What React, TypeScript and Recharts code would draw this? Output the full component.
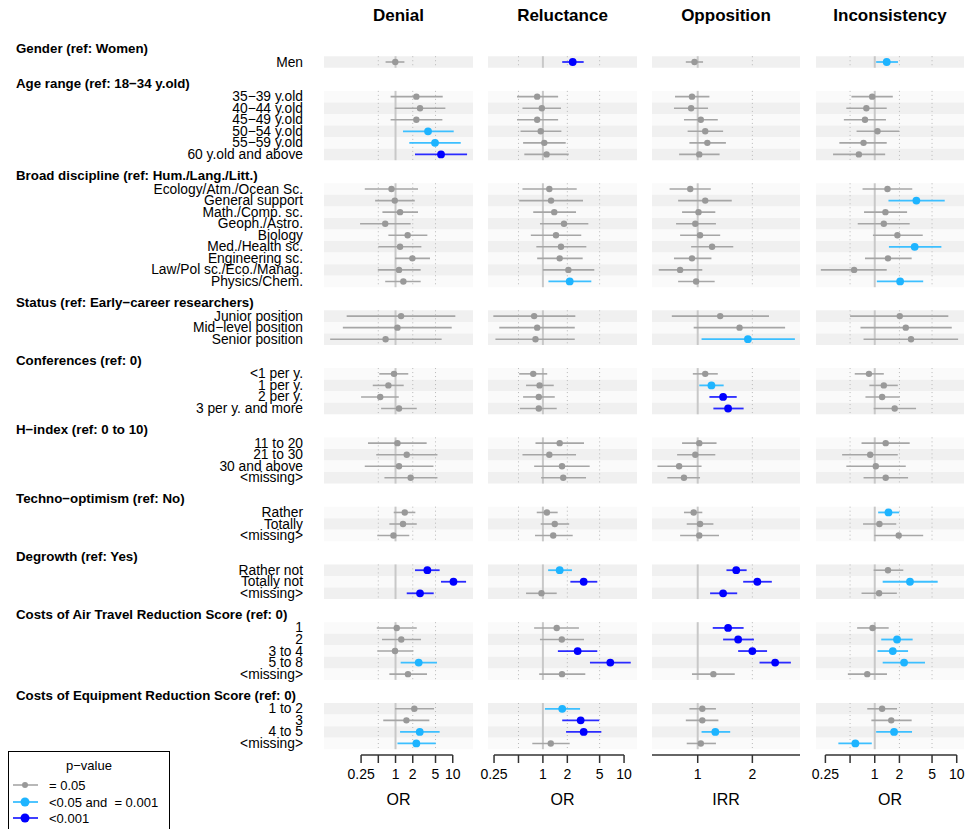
import React from 'react';
import { ScatterChart, Scatter, XAxis, YAxis, ErrorBar, ReferenceArea, ReferenceLine } from 'recharts';

const FONT = '"Liberation Sans", Arial, Helvetica, sans-serif';
const M = '\u2212';

// ---------- categories ----------
const groupTitles = [
  'Gender (ref: Women)',
  `Age range (ref: 18${M}34 y.old)`,
  'Broad discipline (ref: Hum./Lang./Litt.)',
  `Status (ref: Early${M}career researchers)`,
  'Conferences (ref: 0)',
  `H${M}index (ref: 0 to 10)`,
  `Techno${M}optimism (ref: No)`,
  'Degrowth (ref: Yes)',
  'Costs of Air Travel Reduction Score (ref: 0)',
  'Costs of Equipment Reduction Score (ref: 0)',
];
const groupItems = [
  ['Men'],
  [`35${M}39 y.old`, `40${M}44 y.old`, `45${M}49 y.old`, `50${M}54 y.old`, `55${M}59 y.old`, '60 y.old and above'],
  ['Ecology/Atm./Ocean Sc.', 'General support', 'Math./Comp. sc.', 'Geoph./Astro.', 'Biology', 'Med./Health sc.', 'Engineering sc.', 'Law/Pol sc./Eco./Manag.', 'Physics/Chem.'],
  ['Junior position', `Mid${M}level position`, 'Senior position'],
  ['<1 per y.', '1 per y.', '2 per y.', '3 per y. and more'],
  ['11 to 20', '21 to 30', '30 and above', '<missing>'],
  ['Rather', 'Totally', '<missing>'],
  ['Rather not', 'Totally not', '<missing>'],
  ['1', '2', '3 to 4', '5 to 8', '<missing>'],
  ['1 to 2', '3', '4 to 5', '<missing>'],
];

// ---------- series values: [estimate, low, high, significance (0: >=0.05, 1: <0.05, 2: <0.001)] ----------
const denial = [
  [0.99, 0.67, 1.43, 0],
  [2.31, 0.82, 6.68, 0], [2.68, 0.97, 7.43, 0], [2.31, 0.82, 6.59, 0], [3.7, 1.35, 10.4, 1], [4.9, 1.74, 13.8, 1], [6.24, 2.19, 17.8, 2],
  [0.85, 0.29, 2.47, 0], [0.97, 0.44, 2.17, 0], [1.2, 0.59, 2.47, 0], [0.66, 0.24, 1.84, 0], [1.63, 0.75, 3.6, 0], [1.2, 0.5, 2.83, 0], [1.97, 0.98, 4.0, 0], [1.15, 0.49, 2.75, 0], [1.37, 0.66, 2.75, 0],
  [1.25, 0.14, 11.1, 0], [1.08, 0.12, 9.6, 0], [0.67, 0.072, 6.4, 0],
  [0.94, 0.52, 1.67, 0], [0.75, 0.4, 1.39, 0], [0.54, 0.25, 1.14, 0], [1.15, 0.56, 2.35, 0],
  [1.08, 0.33, 3.5, 0], [1.57, 0.46, 5.4, 0], [1.15, 0.29, 4.6, 0], [1.84, 0.64, 5.4, 0],
  [1.45, 0.93, 2.22, 0], [1.35, 0.78, 2.35, 0], [0.92, 0.48, 1.74, 0],
  [3.6, 2.19, 5.9, 2], [10.3, 6.24, 17.1, 2], [2.68, 1.57, 4.65, 2],
  [1.05, 0.47, 2.35, 0], [1.26, 0.58, 2.79, 0], [0.98, 0.48, 2.05, 0], [2.54, 1.23, 5.3, 1], [1.65, 0.78, 3.55, 0],
  [2.13, 0.98, 4.71, 0], [1.55, 0.61, 3.9, 0], [2.65, 1.2, 5.9, 1], [2.31, 1.08, 5.05, 1],
];
const reluctance = [
  [2.33, 1.73, 3.18, 2],
  [0.85, 0.48, 1.54, 0], [0.97, 0.56, 1.67, 0], [0.85, 0.48, 1.54, 0], [0.94, 0.53, 1.69, 0], [1.04, 0.57, 1.91, 0], [1.11, 0.59, 2.08, 0],
  [1.2, 0.56, 2.61, 0], [1.26, 0.51, 3.12, 0], [1.38, 0.76, 2.56, 0], [1.82, 0.92, 3.63, 0], [1.45, 0.71, 2.97, 0], [1.67, 0.83, 3.43, 0], [1.61, 0.85, 3.09, 0], [2.06, 1.0, 4.3, 0], [2.14, 1.17, 3.95, 1],
  [0.78, 0.245, 2.51, 0], [0.85, 0.29, 2.47, 0], [0.81, 0.26, 2.47, 0],
  [0.76, 0.51, 1.13, 0], [0.91, 0.62, 1.36, 0], [0.89, 0.57, 1.4, 0], [0.89, 0.52, 1.48, 0],
  [1.61, 0.81, 3.21, 0], [1.2, 0.56, 2.56, 0], [1.72, 0.78, 3.77, 0], [1.78, 0.95, 3.4, 0],
  [1.12, 0.84, 1.52, 0], [1.4, 0.94, 2.11, 0], [1.34, 0.8, 2.33, 0],
  [1.61, 1.16, 2.28, 1], [3.18, 2.18, 4.68, 2], [0.96, 0.62, 1.48, 0],
  [1.48, 0.78, 2.78, 0], [1.71, 0.92, 3.21, 0], [2.68, 1.53, 4.68, 2], [6.77, 3.8, 12.1, 2], [1.72, 0.9, 3.33, 0],
  [1.73, 1.06, 2.87, 1], [2.92, 1.73, 4.95, 2], [3.18, 1.93, 5.25, 2], [1.25, 0.74, 2.14, 0],
];
const opposition = [
  [0.96, 0.86, 1.07, 0],
  [0.93, 0.75, 1.16, 0], [0.92, 0.74, 1.14, 0], [1.04, 0.84, 1.29, 0], [1.1, 0.88, 1.38, 0], [1.13, 0.9, 1.43, 0], [1.02, 0.79, 1.32, 0],
  [0.91, 0.7, 1.18, 0], [1.1, 0.78, 1.54, 0], [1.01, 0.82, 1.25, 0], [0.97, 0.76, 1.26, 0], [1.03, 0.8, 1.33, 0], [1.2, 0.92, 1.57, 0], [0.93, 0.74, 1.19, 0], [0.8, 0.61, 1.06, 0], [0.98, 0.78, 1.24, 0],
  [1.33, 0.72, 2.47, 0], [1.7, 0.95, 3.03, 0], [1.89, 1.05, 3.43, 1],
  [1.1, 0.94, 1.29, 0], [1.19, 1.02, 1.39, 1], [1.38, 1.16, 1.64, 2], [1.47, 1.22, 1.79, 2],
  [1.02, 0.82, 1.27, 0], [0.97, 0.77, 1.25, 0], [0.79, 0.6, 1.05, 0], [0.84, 0.68, 1.03, 0],
  [0.95, 0.84, 1.06, 0], [1.03, 0.87, 1.22, 0], [1.02, 0.8, 1.31, 0],
  [1.63, 1.44, 1.86, 2], [2.13, 1.78, 2.56, 2], [1.38, 1.17, 1.65, 2],
  [1.47, 1.21, 1.79, 2], [1.67, 1.38, 2.04, 2], [2.0, 1.67, 2.41, 2], [2.67, 2.19, 3.26, 2], [1.22, 0.93, 1.6, 0],
  [1.06, 0.9, 1.26, 0], [1.06, 0.86, 1.3, 0], [1.25, 1.05, 1.51, 1], [1.04, 0.87, 1.26, 0],
];
const inconsistency = [
  [1.4, 1.04, 1.92, 1],
  [0.93, 0.52, 1.66, 0], [0.79, 0.45, 1.4, 0], [0.76, 0.42, 1.37, 0], [1.08, 0.6, 1.98, 0], [0.73, 0.37, 1.4, 0], [0.64, 0.31, 1.34, 0],
  [1.43, 0.71, 2.87, 0], [3.22, 1.47, 7.14, 1], [1.35, 0.74, 2.48, 0], [1.29, 0.62, 2.67, 0], [1.89, 0.95, 3.85, 0], [3.07, 1.49, 6.5, 1], [1.45, 0.76, 2.82, 0], [0.56, 0.22, 1.4, 0], [2.04, 1.06, 3.9, 1],
  [2.02, 0.5, 7.9, 0], [2.39, 0.67, 8.7, 0], [2.77, 0.73, 10.4, 0],
  [0.85, 0.57, 1.29, 0], [1.29, 0.86, 1.91, 0], [1.23, 0.77, 2.02, 0], [1.75, 0.97, 3.19, 0],
  [1.36, 0.69, 2.67, 0], [0.88, 0.4, 1.91, 0], [1.03, 0.45, 2.39, 0], [1.36, 0.73, 2.55, 0],
  [1.47, 1.1, 1.99, 1], [1.14, 0.72, 1.83, 0], [1.96, 0.99, 3.9, 0],
  [1.45, 0.97, 2.23, 0], [2.69, 1.25, 5.86, 1], [1.13, 0.69, 1.86, 0],
  [0.94, 0.61, 1.48, 0], [1.87, 1.2, 2.9, 1], [1.66, 1.08, 2.55, 1], [2.28, 1.25, 4.1, 1], [0.81, 0.47, 1.41, 0],
  [1.23, 0.81, 1.87, 0], [1.59, 0.91, 2.82, 0], [1.72, 1.04, 2.85, 1], [0.58, 0.36, 0.92, 1],
];

// ---------- tick labels ----------
const panelTitles = ['Denial', 'Reluctance', 'Opposition', 'Inconsistency'];
const axisTitles = ['OR', 'OR', 'IRR', 'OR'];
const orTicks = [0.25, 0.5, 1, 2, 5, 10];
const orTickLabels = ['0.25', '', '1', '2', '5', '10'];
const irrTicks = [1, 2];
const irrTickLabels = ['1', '2'];
const orGrid = [0.5, 2, 5];
const irrGrid = [2];
const legendTitle = `p${M}value`;
const legendLabels = ['= 0.05', '<0.05 and\u00a0 = 0.001', '<0.001'];

const panelData = [denial, reluctance, opposition, inconsistency];
const panelDomains = [[0.0562, 22.6], [0.2106, 14.44], [0.56, 3.66], [0.192, 12.27]];

// ---------- layout / style ----------
const PLOT_LEFT = [324, 488, 652, 816];
const PLOT_W = [149, 149, 148, 148];
const LABEL_W = 324;
const PAD = 18;
const SLOT_MIN = -1;
const SLOT_MAX = 61;
const CH = 829;
const TOP = 38.9;
const XH = 50;
const BOTTOM = 24;

const SIG_DOT = ['#999999', '#1eb4ff', '#0000ff'];
const SIG_LINE = ['#a6a6a6', '#3cbfff', '#2a2aff'];
const SIG_R = [3.2, 3.9, 3.9];
const SIG_W = [1.6, 1.8, 1.8];
const STRIPE = ['#f0f0f0', '#fafafa'];

// build slots
type Pt = { x: number; y: number; err: number[]; sig: number; k: number };
const labelRows: { slot: number; text: string; header: boolean }[] = [];
const groupSpans: { first: number; last: number }[] = [];
const itemSlots: number[] = [];
(() => {
  let slot = 0;
  groupItems.forEach((items, gi) => {
    labelRows.push({ slot, text: groupTitles[gi], header: true });
    items.forEach((t, ii) => {
      labelRows.push({ slot: slot + 1 + ii, text: t, header: false });
      itemSlots.push(slot + 1 + ii);
    });
    groupSpans.push({ first: slot + 1, last: slot + items.length });
    slot += items.length + 2;
  });
})();
const labelBySlot = new Map(labelRows.map((r) => [r.slot, r]));

function buildPoints(rows: number[][]): Pt[] {
  return rows.map((r, k) => ({ x: r[0], y: itemSlots[k], err: [r[0] - r[1], r[2] - r[0]], sig: r[3], k }));
}

const LabelTick = (props: any) => {
  const { y, payload } = props;
  const r = labelBySlot.get(payload.value);
  if (!r) return <g />;
  if (r.header) {
    return (
      <text x={16} y={y - 2} textAnchor="start" dominantBaseline="central" fontFamily={FONT} fontSize={13.3} fontWeight="bold" fill="#000">
        {r.text}
      </text>
    );
  }
  return (
    <text x={303} y={y} textAnchor="end" dominantBaseline="central" fontFamily={FONT} fontSize={13.8} fill="#000">
      {r.text}
    </text>
  );
};

function Panel({ idx }: { idx: number }) {
  const first = idx === 0;
  const isIrr = idx === 2;
  const domain = panelDomains[idx];
  const ticks = isIrr ? irrTicks : orTicks;
  const tickLabels = isIrr ? irrTickLabels : orTickLabels;
  const grid = isIrr ? irrGrid : orGrid;
  const pts = buildPoints(panelData[idx]);
  const marginLeft = first ? 0 : PAD;
  const width = (first ? LABEL_W : 0) + marginLeft + PLOT_W[idx] + PAD;
  const left = first ? 0 : PLOT_LEFT[idx] - PAD;
  const axisFrom = isIrr ? domain[0] : ticks[0];
  const axisTo = isIrr ? domain[1] : ticks[ticks.length - 1];
  return (
    <div style={{ position: 'absolute', left, top: 0 }}>
      <ScatterChart width={width} height={CH} margin={{ top: TOP, right: PAD, bottom: BOTTOM, left: marginLeft }}>
        <XAxis
          type="number"
          dataKey="x"
          scale="log"
          domain={domain}
          allowDataOverflow
          ticks={ticks}
          interval={0}
          tickFormatter={(v: number) => tickLabels[ticks.indexOf(v)] ?? ''}
          axisLine={false}
          tickLine={{ stroke: '#333', strokeWidth: 1.5 }}
          tickSize={8}
          tickMargin={6}
          height={XH}
          tick={{ fontFamily: FONT, fontSize: 14, fill: '#000' }}
          label={{ value: axisTitles[idx], position: 'insideBottom', offset: 0, fontFamily: FONT, fontSize: 16, fill: '#000' }}
        />
        <YAxis
          type="number"
          dataKey="y"
          domain={[SLOT_MIN, SLOT_MAX]}
          reversed
          allowDataOverflow
          hide={!first}
          width={first ? LABEL_W : 0}
          ticks={labelRows.map((r) => r.slot)}
          interval={0}
          axisLine={false}
          tickLine={false}
          tick={LabelTick}
        />
        {pts.map((p) => (
          <ReferenceArea
            key={'s' + p.k}
            x1={domain[0]}
            x2={domain[1]}
            y1={p.y - 0.5}
            y2={p.y + 0.5}
            fill={STRIPE[p.k % 2]}
            fillOpacity={1}
            stroke="none"
            ifOverflow="visible"
          />
        ))}
        {groupSpans.map((g, gi) =>
          grid.map((gx) => (
            <ReferenceLine
              key={'g' + gi + '_' + gx}
              segment={[{ x: gx, y: g.first - 0.5 }, { x: gx, y: g.last + 0.5 }]}
              stroke="#b8b8b8"
              strokeWidth={1}
              strokeDasharray="1 3"
            />
          ))
        )}
        {groupSpans.map((g, gi) => (
          <ReferenceLine
            key={'one' + gi}
            segment={[{ x: 1, y: g.first - 0.5 }, { x: 1, y: g.last + 0.5 }]}
            stroke="#c8c8c8"
            strokeWidth={2}
          />
        ))}
        <ReferenceLine
          segment={[{ x: axisFrom, y: SLOT_MAX }, { x: axisTo, y: SLOT_MAX }]}
          stroke="#333"
          strokeWidth={1.5}
          ifOverflow="visible"
        />
        {[0, 1, 2].map((s) => (
          <Scatter
            key={'sig' + s}
            data={pts.filter((p) => p.sig === s)}
            isAnimationActive={false}
            shape={(sp: any) => <circle cx={sp.cx} cy={sp.cy} r={SIG_R[s]} fill={SIG_DOT[s]} />}
          >
            <ErrorBar dataKey="err" direction="x" width={0} stroke={SIG_LINE[s]} strokeWidth={SIG_W[s]} />
          </Scatter>
        ))}
      </ScatterChart>
      <div
        style={{
          position: 'absolute',
          left: first ? LABEL_W : marginLeft,
          top: 6,
          width: PLOT_W[idx],
          textAlign: 'center',
          fontFamily: FONT,
          fontWeight: 'bold',
          fontSize: 17,
          lineHeight: '20px',
          color: '#000',
        }}
      >
        {panelTitles[idx]}
      </div>
    </div>
  );
}

function LegendBox() {
  const rowsY = [33, 50, 66];
  return (
    <div style={{ position: 'absolute', left: 8, top: 751, width: 162, height: 90, boxSizing: 'border-box', border: '1px solid #000', background: '#fff' }}>
      <svg width={160} height={88} style={{ display: 'block' }}>
        <text x={80} y={13} textAnchor="middle" dominantBaseline="central" fontFamily={FONT} fontSize={13}>
          {legendTitle}
        </text>
        {legendLabels.map((t, i) => (
          <g key={i}>
            <line x1={4} x2={29} y1={rowsY[i]} y2={rowsY[i]} stroke={SIG_LINE[i]} strokeWidth={SIG_W[i]} />
            <circle cx={16} cy={rowsY[i]} r={i === 0 ? 3 : 4.5} fill={SIG_DOT[i]} />
            <text x={40} y={rowsY[i]} dominantBaseline="central" fontFamily={FONT} fontSize={13}>
              {t}
            </text>
          </g>
        ))}
      </svg>
    </div>
  );
}

export default function App() {
  return (
    <div style={{ position: 'absolute', left: 0, top: 0, width: 965, height: 829, background: '#fff', overflow: 'hidden' }}>
      {[0, 1, 2, 3].map((i) => (
        <Panel key={i} idx={i} />
      ))}
      <LegendBox />
    </div>
  );
}
